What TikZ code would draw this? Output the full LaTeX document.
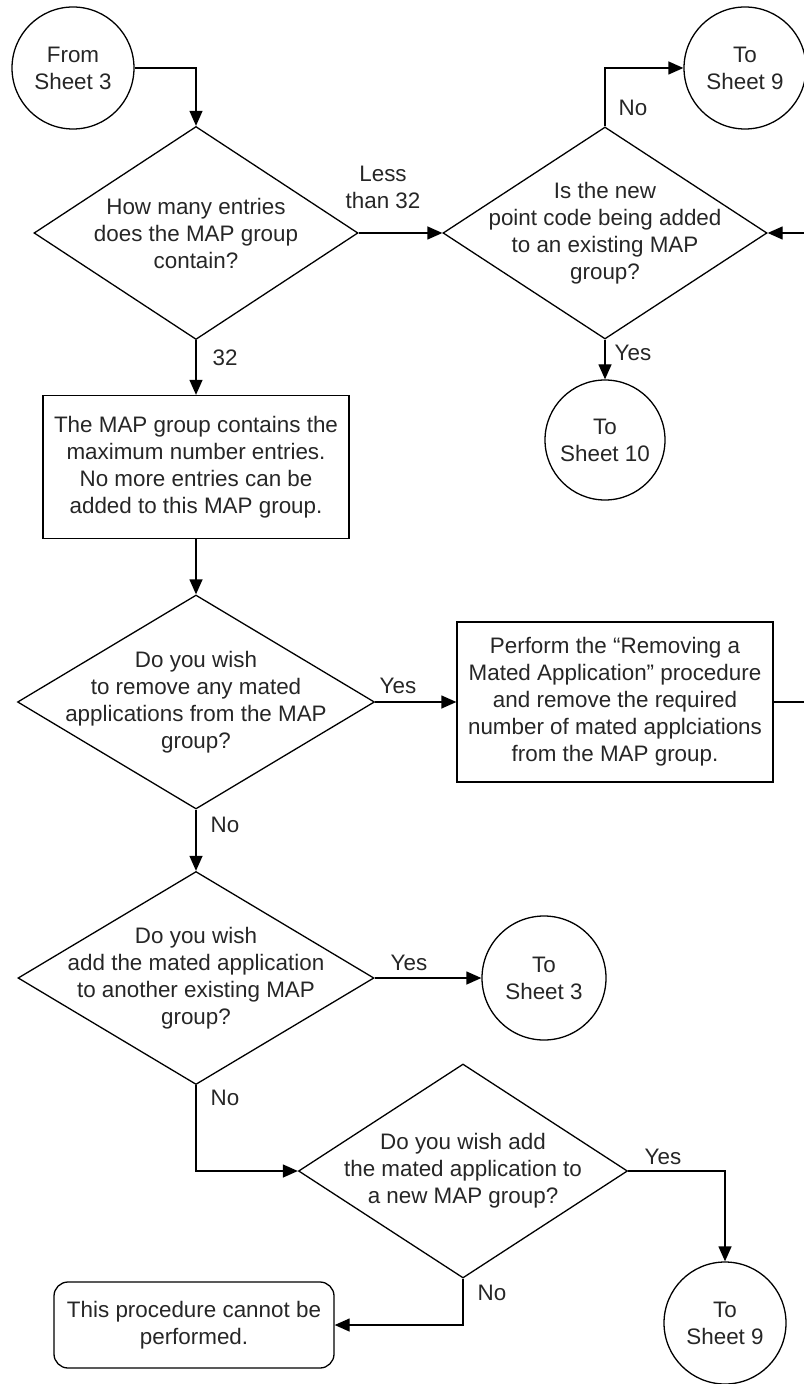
\documentclass[tikz,border=0pt]{standalone}
\usepackage{fontspec}
\setmainfont{Liberation Sans}
\usetikzlibrary{shapes.geometric,arrows.meta}

\begin{document}
\begin{tikzpicture}[x=0.5pt,y=-0.5pt,line width=0.65pt,
  every node/.style={font=\fontsize{11.2}{13.5}\selectfont,text=black!85},
  decision/.style={diamond,draw,inner sep=0pt},
  sheet/.style={circle,draw,align=center,inner sep=0pt},
  action/.style={rectangle,draw,align=center,inner sep=0pt},
  flow/.style={-{Triangle[length=7.5pt,width=6.5pt]}}]
 \useasboundingbox (0,0) rectangle (803,1384);
 % top row
 \node[sheet,minimum size=61pt] (from3) at (73,68) {From\\Sheet 3};
 \node[decision,minimum width=162pt,minimum height=106.5pt] (q1) at (196,233) {};
 \node[align=center] (q1-text) at (q1) {How many entries\\does the MAP group\\contain?};
 \node[decision,minimum width=162pt,minimum height=106pt] (q2) at (605,233) {};
 \node[align=center] (q2-text) at (q2) {Is the new\\point code being added\\to an existing MAP\\group?};
 \node[sheet,minimum size=61pt] (to9a) at (745,68) {To\\Sheet 9};
 \node[sheet,minimum size=60pt] (to10) at (605,440) {To\\Sheet 10};
 % middle
 \node[action,minimum width=153pt,minimum height=71.5pt] (full) at (196,467)
   {The MAP group contains the\\maximum number entries.\\No more entries can be\\added to this MAP group.};
 \node[decision,minimum width=178.5pt,minimum height=107pt] (q3) at (196,702) {};
 \node[align=center] (q3-text) at (q3) {Do you wish\\to remove any mated\\applications from the MAP\\group?};
 \node[action,minimum width=158pt,minimum height=80pt] (remove) at (615,702)
   {Perform the “Removing a\\Mated Application” procedure\\and remove the required\\number of mated applciations\\from the MAP group.};
 % bottom
 \node[decision,minimum width=178pt,minimum height=106.5pt] (q4) at (196,978) {};
 \node[align=center] (q4-text) at (q4) {Do you wish\\add the mated application\\to another existing MAP\\group?};
 \node[sheet,minimum size=62pt] (to3) at (544,978) {To\\Sheet 3};
 \node[decision,minimum width=164.5pt,minimum height=107pt] (q5) at (463,1171) {};
 \node[align=center] (q5-text) at (q5) {Do you wish add\\the mated application to\\a new MAP group?};
 \node[sheet,minimum size=61pt] (to9b) at (725,1323) {To\\Sheet 9};
 \node[action,rounded corners=7pt,minimum width=140pt,minimum height=43pt] (stop) at (194,1325)
   {This procedure cannot be\\performed.};
 \coordinate (back) at (830,702);

 \draw[flow] (from3.east) -| (q1.north);
 \draw[flow] (q1.east) -- (q2.west);
 \draw[flow] (q2.north) |- (to9a.west);
 \draw[flow] (q2.south) -- (to10.north);
 \draw[flow] (q1.south) -- (full.north);
 \draw[flow] (full.south) -- (q3.north);
 \draw[flow] (q3.east) -- (remove.west);
 \draw[flow] (remove.east) -- (back) |- (q2.east);
 \draw[flow] (q3.south) -- (q4.north);
 \draw[flow] (q4.east) -- (to3.west);
 \draw[flow] (q4.south) |- (q5.west);
 \draw[flow] (q5.east) -| (to9b.north);
 \draw[flow] (q5.south) |- (stop.east);

 \node[align=center] (lbl-less) at (383,187) {Less\\than 32};
 \node (lbl-no1) at (633,108) {No};
 \node (lbl-yes1) at (633,353) {Yes};
 \node (lbl-32) at (225,358) {32};
 \node (lbl-yes2) at (398,686) {Yes};
 \node (lbl-no2) at (225,825) {No};
 \node (lbl-yes3) at (409,963) {Yes};
 \node (lbl-no3) at (225,1098) {No};
 \node (lbl-yes4) at (663,1157) {Yes};
 \node (lbl-no4) at (492,1293) {No};
\end{tikzpicture}
\end{document}
